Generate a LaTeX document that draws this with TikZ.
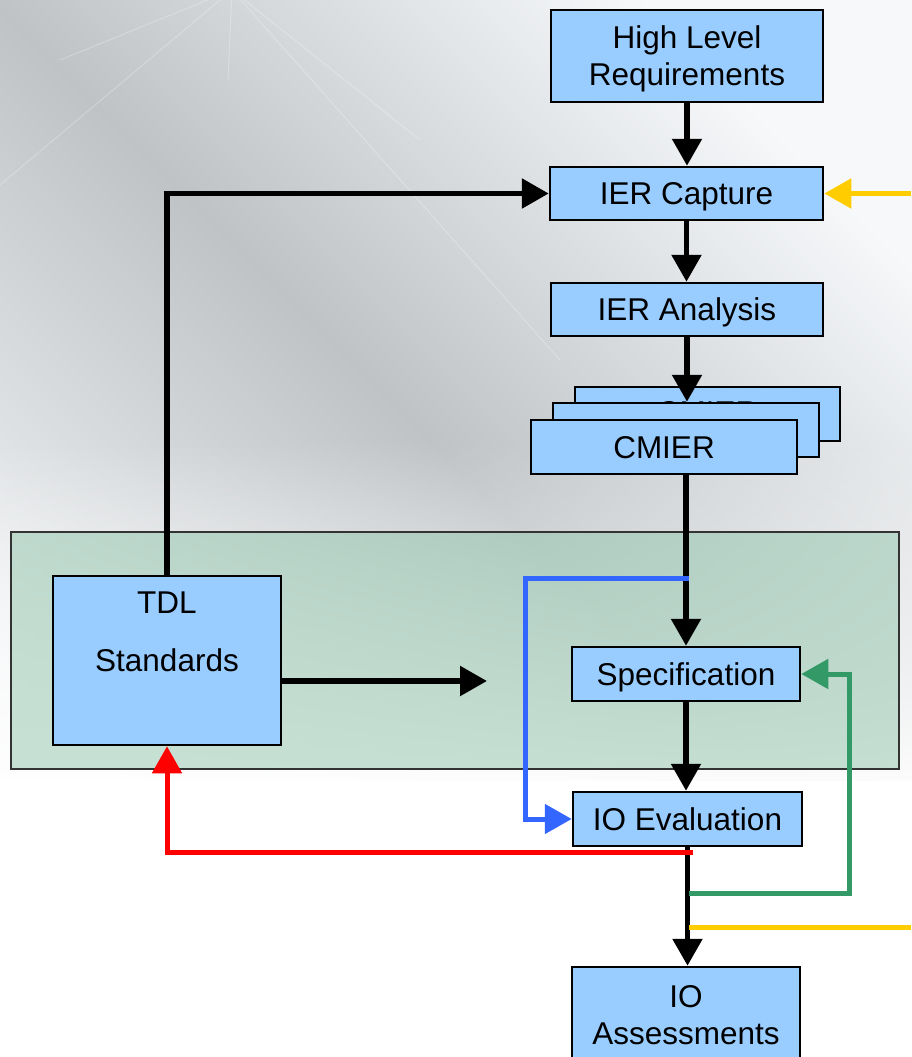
\documentclass[tikz,border=0pt]{standalone}
\usepackage{fontspec}
\setmainfont{Liberation Sans}
\usetikzlibrary{arrows.meta,fadings,calc}
\definecolor{boxblue}{HTML}{99CCFF}
\definecolor{bgdark}{HTML}{BFC3C6}
\definecolor{bgleft}{HTML}{F0F2F4}
\definecolor{bglight}{HTML}{F6F8FA}
\definecolor{panelgreen}{HTML}{91C5AB}
\definecolor{cblue}{HTML}{3366FF}
\definecolor{cgreen}{HTML}{339966}
\definecolor{cred}{HTML}{FF0000}
\definecolor{cyellow}{HTML}{FFCC00}
\begin{document}
\begin{tikzpicture}[x=1pt,y=-1pt,
  box/.style={draw=black, line width=2.5pt, fill=boxblue, inner sep=0pt, align=center,
    text depth=0pt, font=\fontsize{31.5}{37}\selectfont},
  lbl/.style={inner sep=0pt, font=\fontsize{31.5}{37}\selectfont},
  tip/.style={-{Triangle[length=27pt,width=29pt]}},
  arr/.style={tip, line width=5.5pt, draw=black, line join=miter},
  carr/.style={line width=5pt, line join=miter},
  panelbox/.style={draw=black!80, line width=1.5pt, fill=panelgreen, fill opacity=0.5, inner sep=0pt},
  ray/.style={draw=white, line width=1pt, opacity=0.25}
]
\useasboundingbox (0,0) rectangle (911,1057);
% background
\fill[white] (0,0) rectangle (911,1057);
\shade[left color=bgleft, right color=bglight, middle color=bgdark, shading angle=135]
  (-160,0) rectangle (921,780);
\fill[white, path fading=north] (-10,440) rectangle (921,800);
\draw[ray] (232,-10) -- (0,185);
\draw[ray] (232,-10) -- (560,360);
\draw[ray] (232,-10) -- (228,80);
\draw[ray] (232,-10) -- (420,140);
\draw[ray] (232,-10) -- (60,60);
% panel
\node[panelbox, minimum width=888pt, minimum height=237pt] (panel) at (455,650.5) {};
% boxes
\node[box, minimum width=272pt, minimum height=92pt] (hlr) at (687,56) {High Level\\Requirements};
\node[box, minimum width=273pt, minimum height=53pt] (cap) at (686.5,193.5) {IER Capture};
\node[box, minimum width=272pt, minimum height=53pt] (ana) at (687,309.5) {IER Analysis};
\node[box, minimum width=265pt, minimum height=54pt, text depth=2.5pt] (cm3) at (707.5,414) {CMIER};
\node[box, minimum width=266pt, minimum height=54pt] (cm2) at (686,430) {CMIER};
\node[box, minimum width=266pt, minimum height=54pt] (cm1) at (664,447) {CMIER};
\node[box, minimum width=228pt, minimum height=54pt] (spec) at (686,674) {Specification};
\node[box, minimum width=229pt, minimum height=54pt] (ioe) at (687.5,819) {IO Evaluation};
\node[box, minimum width=228pt, minimum height=95pt] (ioa) at (686,1014.5) {IO\\Assessments};
\node[box, minimum width=228pt, minimum height=169pt] (tdl) at (167,660.5) {};
\node[lbl] (tdla) at (167,603) {TDL};
\node[lbl] (tdlb) at (167,660) {Standards};
% coordinates
\coordinate (bsplit) at (689,578);
\coordinate (bcorner) at (525,578);
\coordinate (rstart) at (693,852);
\coordinate (gstart) at (689,893);
\coordinate (gcorner) at (849,893);
\coordinate (ystart) at (689,927);
\coordinate (yend) at (911,927);
\coordinate (yin) at (911,193.5);
\coordinate (tend) at (487,681);
% black connectors
\draw[arr] (hlr.south) -- (hlr.south |- cap.north);
\draw[arr] (cap.south) -- (cap.south |- ana.north);
\draw[arr] (ana.south) -- (ana.south |- cm2.north);
\draw[arr] (spec.north |- cm1.south) -- (spec.north);
\draw[arr] (spec.south) -- (spec.south |- ioe.north);
\draw[arr] (ioe.south) -- (ioe.south |- ioa.north);
\draw[arr] (tdl.north) |- (cap.west);
\draw[arr] (tdl.east |- tend) -- (tend);
% coloured connectors
\draw[carr, draw=cblue, tip] (bsplit) -- (bcorner) |- (ioe.west);
\draw[carr, draw=cred, tip] (rstart) -| (tdl.south);
\draw[carr, draw=cgreen, tip] (gstart) -- (gcorner) |- (spec.east);
\draw[carr, draw=cyellow] (ystart) -- (yend);
\draw[carr, draw=cyellow, tip] (yin) -- (cap.east);
\end{tikzpicture}
\end{document}
